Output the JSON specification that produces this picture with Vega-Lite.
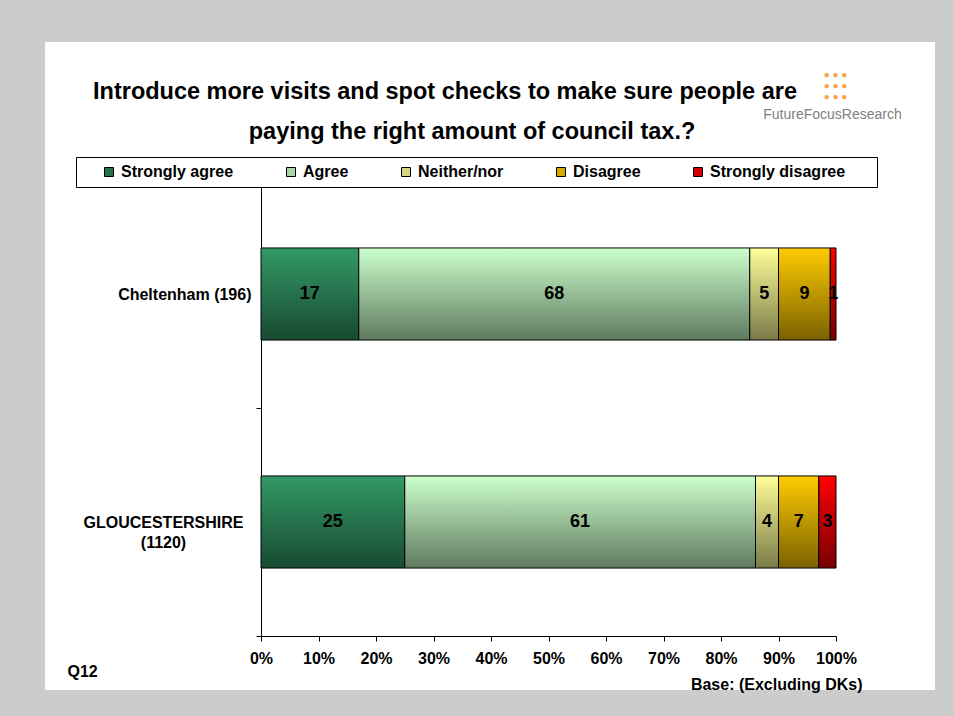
{
  "$schema": "https://vega.github.io/schema/vega-lite/v6.json",
  "width": 890,
  "height": 648,
  "padding": {"left": 45, "top": 42, "right": 19, "bottom": 26},
  "autosize": {"type": "none"},
  "background": "#cccccc",
  "view": {"fill": "white", "stroke": null},
  "title": {
    "text": ["Introduce more visits and spot checks to make sure people are", "\u2800\u2800\u2800paying the right amount of council tax.?"],
    "fontSize": 23.5,
    "fontWeight": "bold",
    "color": "black",
    "lineHeight": 40,
    "anchor": "middle",
    "frame": "group",
    "dx": -45,
    "offset": -109
  },
  "data": {
    "values": [
      {"region": "Cheltenham (196)", "cat": "Strongly agree", "k": 1, "pct": 17},
      {"region": "Cheltenham (196)", "cat": "Agree", "k": 2, "pct": 68},
      {"region": "Cheltenham (196)", "cat": "Neither/nor", "k": 3, "pct": 5},
      {"region": "Cheltenham (196)", "cat": "Disagree", "k": 4, "pct": 9},
      {"region": "Cheltenham (196)", "cat": "Strongly disagree", "k": 5, "pct": 1},
      {"region": "GLOUCESTERSHIRE (1120)", "cat": "Strongly agree", "k": 1, "pct": 25},
      {"region": "GLOUCESTERSHIRE (1120)", "cat": "Agree", "k": 2, "pct": 61},
      {"region": "GLOUCESTERSHIRE (1120)", "cat": "Neither/nor", "k": 3, "pct": 4},
      {"region": "GLOUCESTERSHIRE (1120)", "cat": "Disagree", "k": 4, "pct": 7},
      {"region": "GLOUCESTERSHIRE (1120)", "cat": "Strongly disagree", "k": 5, "pct": 3}
    ]
  },
  "transform": [
    {"stack": "pct", "groupby": ["region"], "sort": [{"field": "k", "order": "ascending"}], "as": ["x0", "x1"]}
  ],
  "resolve": {"axis": {"x": "independent", "y": "independent"}},
  "layer": [
    {
      "mark": {"type": "bar", "stroke": "black", "strokeWidth": 1, "height": {"band": 0.404}},
      "encoding": {
        "y": {
          "field": "region", "type": "nominal",
          "scale": {"domain": ["Cheltenham (196)", "GLOUCESTERSHIRE (1120)"], "range": [138, 594], "paddingInner": 0, "paddingOuter": 0},
          "axis": {
            "orient": "left", "offset": -216,
            "domain": true, "domainColor": "black", "domainWidth": 1,
            "ticks": true, "tickColor": "black", "tickSize": 5, "tickBand": "extent",
            "grid": false,
            "labelFontSize": 16, "labelFontWeight": "bold", "labelColor": "black",
            "labelLimit": 400, "labelOverlap": false, "labelLineHeight": 20,
            "labelExpr": "datum.value == 'GLOUCESTERSHIRE (1120)' ? ['GLOUCESTERSHIRE', '(1120)'] : datum.value",
            "labelAlign": {"condition": {"test": "datum.value == 'GLOUCESTERSHIRE (1120)'", "value": "center"}, "value": "right"},
            "labelPadding": {"condition": {"test": "datum.value == 'GLOUCESTERSHIRE (1120)'", "value": 93}, "value": 5},
            "title": "Q12", "titleAngle": 0, "titleX": -194, "titleY": 634,
            "titleAlign": "left", "titleBaseline": "alphabetic",
            "titleFontSize": 16, "titleFontWeight": "bold", "titleColor": "black"
          }
        },
        "x": {
          "field": "x0", "type": "quantitative",
          "scale": {"domain": [0, 100], "range": [216, 791], "nice": false, "zero": false},
          "axis": {
            "orient": "bottom", "offset": -54,
            "values": [0, 10, 20, 30, 40, 50, 60, 70, 80, 90, 100],
            "labelExpr": "datum.value + '%'",
            "domain": true, "domainColor": "black", "domainWidth": 1,
            "ticks": true, "tickColor": "black", "tickSize": 5,
            "grid": false, "labelFlush": false, "labelOverlap": false,
            "labelFontSize": 16, "labelFontWeight": "bold", "labelColor": "black", "labelPadding": 9,
            "title": "Base: (Excluding DKs)", "titleX": 817, "titleY": 53,
            "titleAlign": "right", "titleBaseline": "alphabetic",
            "titleFontSize": 16, "titleFontWeight": "bold", "titleColor": "black"
          }
        },
        "x2": {"field": "x1"},
        "color": {
          "field": "cat", "type": "nominal",
          "condition": [
            {"test": "datum.k == 1", "value": {"gradient": "linear", "x1": 0, "y1": 0, "x2": 0, "y2": 1, "stops": [{"offset": 0, "color": "#339966"}, {"offset": 1, "color": "#184a32"}]}},
            {"test": "datum.k == 2", "value": {"gradient": "linear", "x1": 0, "y1": 0, "x2": 0, "y2": 1, "stops": [{"offset": 0, "color": "#ccffcc"}, {"offset": 1, "color": "#5f7a5f"}]}},
            {"test": "datum.k == 3", "value": {"gradient": "linear", "x1": 0, "y1": 0, "x2": 0, "y2": 1, "stops": [{"offset": 0, "color": "#ffff99"}, {"offset": 1, "color": "#7a7a48"}]}},
            {"test": "datum.k == 4", "value": {"gradient": "linear", "x1": 0, "y1": 0, "x2": 0, "y2": 1, "stops": [{"offset": 0, "color": "#ffcc00"}, {"offset": 1, "color": "#7a6100"}]}},
            {"test": "datum.k == 5", "value": {"gradient": "linear", "x1": 0, "y1": 0, "x2": 0, "y2": 1, "stops": [{"offset": 0, "color": "#ff0000"}, {"offset": 1, "color": "#7a0000"}]}}
          ],
          "scale": {
            "domain": ["Strongly agree", "Agree", "Neither/nor", "Disagree", "Strongly disagree"],
            "range": ["#24704a", "#a8d6a8", "#d6d680", "#d6aa00", "#d60000"]
          },
          "legend": {
            "orient": "none", "legendX": 31, "legendY": 115,
            "direction": "horizontal", "columns": 5, "columnPadding": 49,
            "title": "\u00a0", "titleOrient": "left", "titlePadding": 18, "titleFontSize": 11,
            "padding": 7, "strokeColor": "black", "fillColor": "white",
            "symbolType": "square", "symbolSize": 81, "symbolStrokeColor": "black", "symbolStrokeWidth": 1, "symbolOpacity": 1,
            "labelFontSize": 16, "labelFontWeight": "bold", "labelColor": "black", "labelOffset": 4, "labelLimit": 400,
            "labelExpr": "datum.label == 'Strongly disagree' ? datum.label + '\u2800\u2800' : datum.label"
          }
        }
      }
    },
    {
      "transform": [{"calculate": "(datum.x0 + datum.x1) / 2", "as": "xm"}],
      "mark": {"type": "text", "fontSize": 18, "fontWeight": "bold", "color": "black", "align": "center", "baseline": "middle"},
      "encoding": {
        "y": {
          "field": "region", "type": "nominal",
          "axis": {
            "orient": "right", "domain": false, "ticks": false, "labels": false, "grid": false,
            "title": ["\u25cf \u25cf \u25cf", "\u25cf \u25cf \u25cf", "\u25cf \u25cf \u25cf"],
            "titleAngle": 0, "titleX": -100, "titleY": 32, "titleAlign": "center", "titleBaseline": "middle",
            "titleFontSize": 10, "titleLineHeight": 11, "titleColor": "#f5a34a", "titleFontWeight": "normal"
          }
        },
        "x": {
          "field": "xm", "type": "quantitative",
          "axis": {
            "orient": "top", "domain": false, "ticks": false, "labels": false, "grid": false,
            "title": "FutureFocusResearch", "titleX": 787, "titleY": 76,
            "titleAlign": "center", "titleBaseline": "alphabetic",
            "titleFontSize": 14, "titleFontWeight": "normal", "titleColor": "#7f7f7f"
          }
        },
        "text": {"field": "pct", "type": "quantitative"}
      }
    }
  ],
  "config": {
    "font": "Liberation Sans, Arial, sans-serif",
    "view": {"stroke": null}
  }
}
